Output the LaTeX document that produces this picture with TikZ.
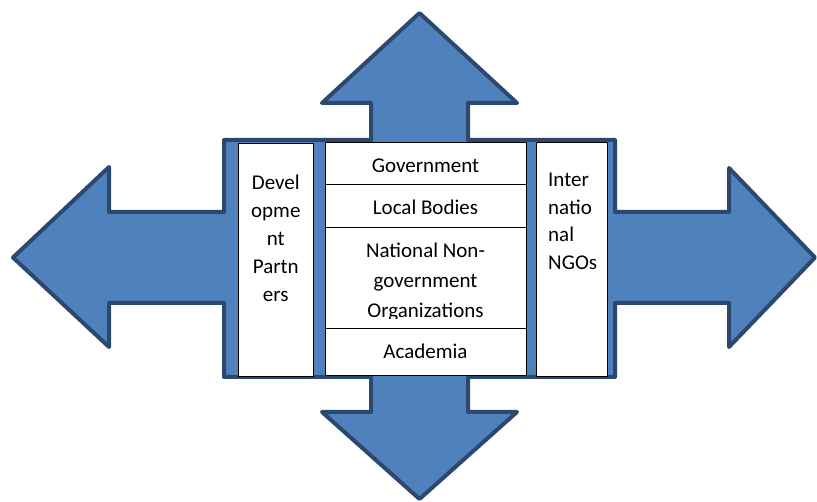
\documentclass[tikz,border=0pt]{standalone}
\usepackage{fontspec}
\setmainfont{Carlito}
\definecolor{fillblue}{RGB}{79,129,189}
\definecolor{edgeblue}{RGB}{44,72,110}
\begin{document}
\begin{tikzpicture}[x=1pt,y=-1pt,
  arrowshape/.style={fill=fillblue, draw=edgeblue, line width=4pt, line join=round},
  wbox/.style={draw=black, fill=white, line width=0.9pt, inner sep=0pt, anchor=north west},
  lbl/.style={inner sep=0pt, anchor=base, font=\fontsize{21}{28}\selectfont},
  lbll/.style={lbl, anchor=base west}]
\useasboundingbox (0,0) rectangle (817,502);
% four-way arrow
\draw[arrowshape] (419.5,13) -- (517,103) -- (468,103) -- (468,140) -- (615,140)
  -- (615,212) -- (729,212) -- (729,168) -- (815,257.5) -- (729,347) -- (729,303)
  -- (615,303) -- (615,377) -- (468,377) -- (468,412) -- (517,412) -- (419.5,499)
  -- (322,412) -- (371,412) -- (371,377) -- (224,377) -- (224,303) -- (109,303)
  -- (109,347) -- (13,257.5) -- (109,167) -- (109,212) -- (224,212) -- (224,140)
  -- (371,140) -- (371,103) -- (322,103) -- cycle;
% white boxes
\node[wbox, minimum width=75pt, minimum height=233.3pt] (devbox) at (238.3,142.7) {};
\node[wbox, minimum width=201pt, minimum height=42.3pt] (govbox) at (325,142) {};
\node[wbox, minimum width=201pt, minimum height=43pt] (localbox) at (325,184.3) {};
\node[wbox, minimum width=201pt, minimum height=100.4pt] (ngobox) at (325,227.3) {};
\node[wbox, minimum width=201pt, minimum height=47.3pt] (acadbox) at (325,327.7) {};
\node[wbox, minimum width=71.3pt, minimum height=234pt] (intbox) at (536,142) {};
% texts
\node[lbl] (dev1) at (275.8,190) {Devel};
\node[lbl] (dev2) at (275.8,218) {opme};
\node[lbl] (dev3) at (275.8,246) {nt};
\node[lbl] (dev4) at (275.8,274) {Partn};
\node[lbl] (dev5) at (275.8,302) {ers};
\node[lbl] (gov) at (425.5,172.7) {Government};
\node[lbl] (local) at (425.5,214.7) {Local Bodies};
\node[lbl] (ngo1) at (425.5,257.3) {National Non-};
\node[lbl] (ngo2) at (425.5,287.3) {government};
\begin{scope}
\clip (325,227.3) rectangle (526,318.5);
\node[lbl] (ngo3) at (425.5,317.3) {Organizations};
\end{scope}
\node[lbl] (acad) at (425.5,358.3) {Academia};
\node[lbll] (int1) at (548,187) {Inter};
\node[lbll] (int2) at (548,214.5) {natio};
\node[lbll] (int3) at (548,242) {nal};
\node[lbll] (int4) at (548,269.5) {NGOs};
\end{tikzpicture}
\end{document}
